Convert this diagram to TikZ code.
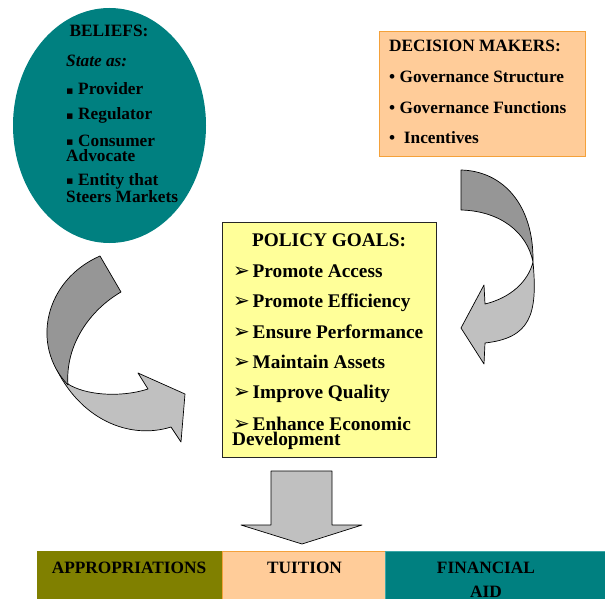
\documentclass[tikz,border=0pt]{standalone}
\usepackage{fontspec}
\setmainfont{Liberation Serif}
\newfontfamily\dvs{DejaVu Sans}
\usetikzlibrary{shapes.geometric}
\definecolor{tealc}{HTML}{008080}
\definecolor{tealb}{HTML}{3AA7A7}
\definecolor{peach}{HTML}{FFCC99}
\definecolor{paleyel}{HTML}{FFFF99}
\definecolor{olivec}{HTML}{808000}
\definecolor{orangeb}{HTML}{F4A13A}
\definecolor{darkarr}{HTML}{969696}
\definecolor{lightarr}{HTML}{C0C0C0}
\begin{document}
\begin{tikzpicture}[x=1pt,y=-1pt,
  txt/.style={font=\fontsize{17.3}{15}\selectfont\bfseries, inner sep=0pt, anchor=base west, align=left},
  ctxt/.style={txt, anchor=base},
  gtxt/.style={txt, font=\fontsize{19.3}{15}\selectfont\bfseries},
  darkarrow/.style={fill=darkarr, draw=black, line width=0.7pt, line join=round},
  lightarrow/.style={fill=lightarr, draw=black, line width=0.7pt, line join=round}]
\useasboundingbox (0,0) rectangle (605,599);
\clip (0,0) rectangle (605,599);
\newcommand{\sqb}{\makebox[12pt][l]{\raisebox{0.8pt}{\dvs\fontsize{11}{11}\selectfont ▪}}}
\newcommand{\arb}{\makebox[19.5pt][l]{\dvs\fontsize{20}{20}\selectfont ➢}}

% Beliefs ellipse
\node (beliefs) [ellipse, fill=tealc, minimum width=193pt, minimum height=235pt, inner sep=0pt] at (109.5,125.5) {};
\node[ctxt] (b0) at (109,37) {BELIEFS:};
\node[txt, font=\fontsize{17.3}{15}\selectfont\bfseries\itshape] (b1) at (66,67) {State as:};
\node[txt] (b2) at (66,95) {\sqb Provider};
\node[txt] (b3) at (66,120) {\sqb Regulator};
\node[txt] (b4) at (66,161) {\sqb Consumer\\Advocate};
\node[txt] (b6) at (66,202) {\sqb Entity that\\Steers Markets};

% Decision makers box
\node (dec) [draw=orangeb, line width=1.3pt, fill=peach, minimum width=206pt, minimum height=125pt, anchor=north west, inner sep=0pt] at (379,31) {};
\node[txt] (d0) at (389,52) {DECISION MAKERS:};
\node[txt] (d1) at (389,83) {• Governance Structure};
\node[txt] (d2) at (389,114) {• Governance Functions};
\node[txt] (d3) at (389,143) {•\ \ Incentives};

% Policy goals box
\node (goals) [draw=black!85, line width=1pt, fill=paleyel, minimum width=214pt, minimum height=235pt, anchor=north west, inner sep=0pt] at (222,222) {};
\node[gtxt, anchor=base] (g0) at (329,246) {POLICY GOALS:};
\node[gtxt] (g1) at (233,277) {\arb Promote Access};
\node[gtxt] (g2) at (233,307) {\arb Promote Efficiency};
\node[gtxt] (g3) at (233,338) {\arb Ensure Performance};
\node[gtxt] (g4) at (233,368) {\arb Maintain Assets};
\node[gtxt] (g5) at (233,398) {\arb Improve Quality};
\node[gtxt] (g6) at (233,445) {\arb Enhance Economic\\[-0.5pt]\hspace*{-1pt}Development};

% Left curved arrow
\filldraw[lightarrow] (55,366) .. controls (80,420) and (130,440) .. (171,427) -- (181,442) -- (185,394) -- (138,373) -- (148,389) .. controls (120,398) and (85,395) .. (68,384) -- cycle;
\filldraw[darkarrow] (100,256) -- (121,292) .. controls (90,310) and (65,345) .. (68,385) .. controls (30,345) and (45,280) .. (100,256) -- cycle;

% Right curved arrow
\filldraw[darkarrow] (461,170) -- (461,210) .. controls (500,211) and (527,232) .. (533,262) .. controls (534,205) and (503,171) .. (461,170) -- cycle;
\filldraw[lightarrow] (533,262) .. controls (538,315) and (530,338) .. (485,343) -- (484,364) -- (461,328) -- (484,285) -- (485,304) .. controls (510,298) and (528,282) .. (533,262) -- cycle;

% Down arrow
\filldraw[lightarrow] (271,471) -- (332,471) -- (332,525) -- (362,525) -- (302,544) -- (241,525) -- (271,525) -- cycle;

% Bottom bar
\node (approp) [fill=olivec, minimum width=185pt, minimum height=50pt, anchor=north west, inner sep=0pt] at (37,551) {};
\node (tuition) [fill=peach, draw=orangeb, line width=0.6pt, minimum width=163pt, minimum height=50pt, anchor=north west, inner sep=0pt] at (222,551) {};
\node (finaid) [fill=tealc, draw=tealb, line width=0.6pt, minimum width=222pt, minimum height=50pt, anchor=north west, inner sep=0pt] at (385,551) {};
\node[ctxt] (t1) at (129,573) {APPROPRIATIONS};
\node[ctxt] (t2) at (304.5,573) {TUITION};
\node[ctxt, align=center] (t3) at (486,597) {FINANCIAL\\[9pt]AID};
\end{tikzpicture}
\end{document}
